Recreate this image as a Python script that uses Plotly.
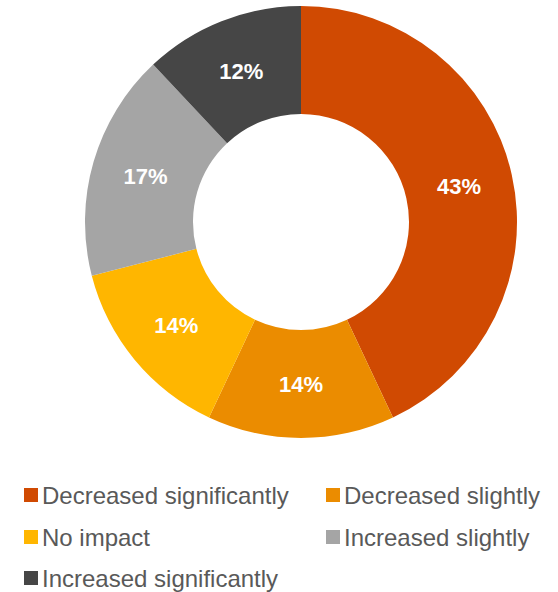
import plotly.graph_objects as go

# Share of respondents by reported change
categories = ["Decreased significantly", "Decreased slightly", "No impact",
              "Increased slightly", "Increased significantly"]
shares = [43, 14, 14, 17, 12]
colors = ["#D04A02", "#EB8C00", "#FFB600", "#A5A5A5", "#464646"]

W, H = 558, 592
cx, cy, r = 301, 222, 216  # donut centre and outer radius in px

fig = go.Figure(go.Pie(
    labels=categories,
    values=shares,
    text=[f"{v}%" for v in shares],
    texttemplate="<b>%{text}</b>",
    textinfo="text",
    textposition="inside",
    insidetextorientation="horizontal",
    textfont=dict(family="Liberation Sans, Arial, sans-serif", size=22, color="white"),
    marker=dict(colors=colors, line=dict(width=0)),
    hole=0.5,
    sort=False,
    direction="clockwise",
    rotation=0,
    hoverinfo="skip",
    domain=dict(x=[(cx - r) / W, (cx + r) / W], y=[1 - (cy + r) / H, 1 - (cy - r) / H]),
))

# Two-column legend below the donut
col_x = [24, 326]
row_y = [495, 537, 578]
sq = 14
shapes, annotations = [], []
for i, (name, col) in enumerate(zip(categories, colors)):
    x0 = col_x[i % 2]
    yc = row_y[i // 2]
    shapes.append(dict(type="rect", xref="paper", yref="paper",
                       x0=x0 / W, x1=(x0 + sq) / W,
                       y0=1 - (yc + sq / 2) / H, y1=1 - (yc - sq / 2) / H,
                       fillcolor=col, line=dict(width=0)))
    annotations.append(dict(xref="paper", yref="paper", x=(x0 + sq + 2) / W, y=1 - yc / H,
                            text=name, showarrow=False, xanchor="left", yanchor="middle",
                            font=dict(family="Liberation Sans, Arial, sans-serif", size=24,
                                      color="#595959")))

fig.update_layout(
    width=W, height=H,
    margin=dict(l=0, r=0, t=0, b=0),
    paper_bgcolor="white", plot_bgcolor="white",
    showlegend=False,
    shapes=shapes, annotations=annotations,
)

fig.write_html("out.html")
